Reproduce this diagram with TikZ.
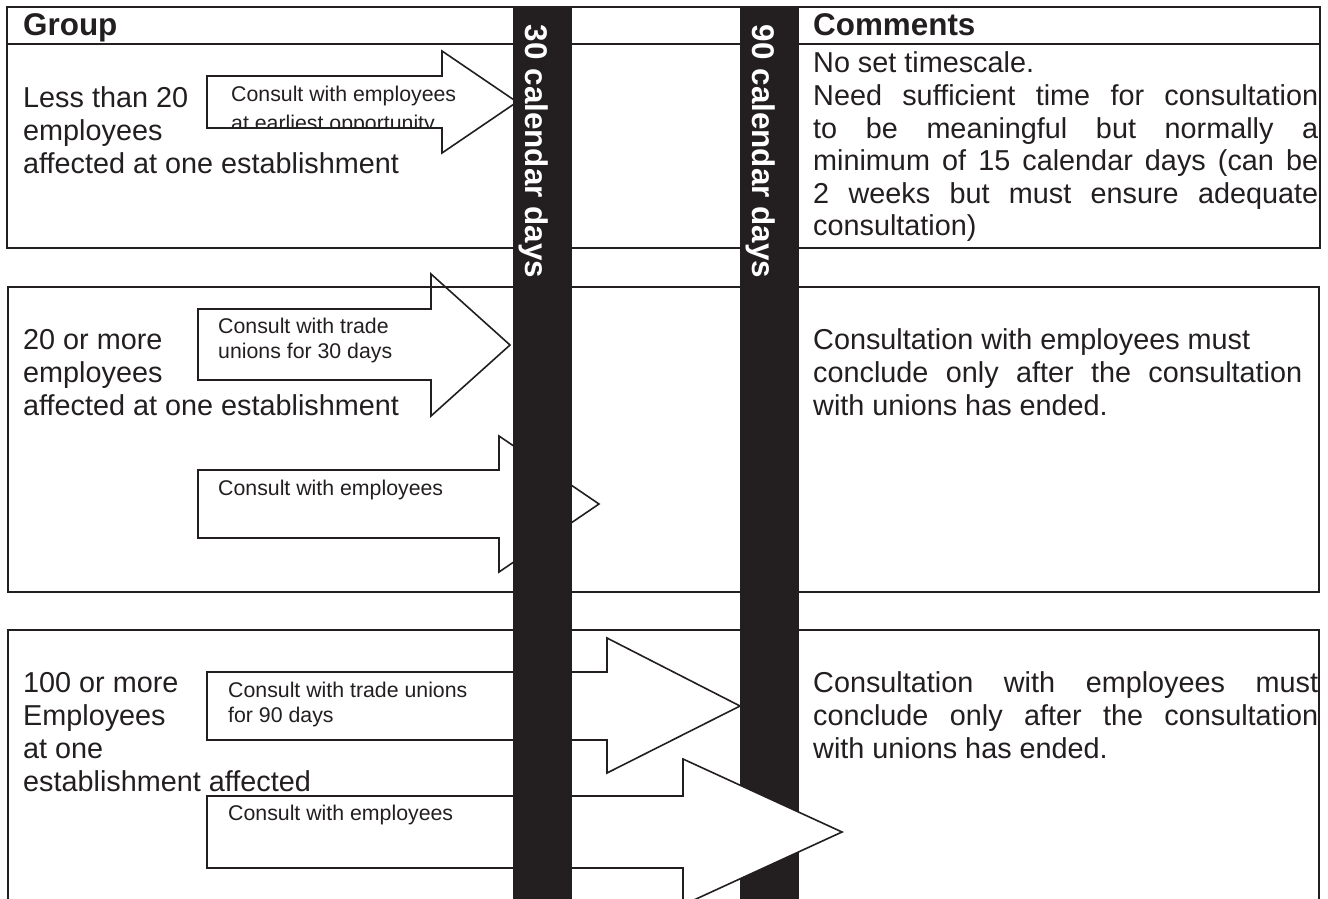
\documentclass[tikz,border=0pt]{standalone}
\usepackage{fontspec}
\setmainfont{Liberation Sans}
\definecolor{ink}{HTML}{231F20}
\newcommand\justline[2]{\makebox[#1][s]{#2}}
\begin{document}
\begin{tikzpicture}[x=1pt,y=-1pt,
  frame/.style={draw=ink, line width=2.2pt},
  barfill/.style={fill=ink},
  blockarrow/.style={draw=ink, fill=white, line width=1.6pt, line join=miter},
  body/.style={inner sep=0pt, anchor=base west, text=ink, font=\fontsize{28.8}{33}\selectfont},
  small/.style={inner sep=0pt, anchor=base west, text=ink, font=\fontsize{21.3}{25}\selectfont},
  headtext/.style={inner sep=0pt, anchor=base west, text=ink, font=\fontsize{31.4}{36}\selectfont\bfseries},
  bartext/.style={inner sep=0pt, anchor=base, rotate=-90, text=white, font=\fontsize{31.4}{36}\selectfont\bfseries}]
\clip (0,0) rectangle (1328,899);
\fill[white] (0,0) rectangle (1328,899);

% bar 2 (below the long arrow)
\fill[barfill] (740,6) rectangle (799,899);

% block arrows
\draw[blockarrow] (207,76) -- (442,76) -- (442,51) -- (517,102) -- (442,153) -- (442,128) -- (207,128) -- cycle;
\draw[blockarrow] (198,309) -- (431,309) -- (431,274) -- (510,345) -- (431,416) -- (431,380) -- (198,380) -- cycle;
\draw[blockarrow] (198,470) -- (499,470) -- (499,436) -- (599,504) -- (499,572) -- (499,538) -- (198,538) -- cycle;
\draw[blockarrow] (207,672) -- (607,672) -- (607,638) -- (740,706) -- (607,773) -- (607,740) -- (207,740) -- cycle;
\draw[blockarrow] (207,796) -- (683,796) -- (683,759) -- (842,832) -- (683,905) -- (683,868) -- (207,868) -- cycle;

% arrow texts
\begin{scope}
  \clip (208.5,77.5) rectangle (480,126.8);
  \node[small] (a1a) at (231,101) {Consult with employees};
  \node[small] (a1b) at (231,130.5) {at earliest opportunity};
\end{scope}
\node[small] (a2a) at (218,333) {Consult with trade};
\node[small] (a2b) at (218,358) {unions for 30 days};
\node[small] (a3a) at (218,495) {Consult with employees};
\node[small] (a4a) at (228,697) {Consult with trade unions};
\node[small] (a4b) at (228,722) {for 90 days};
\node[small] (a5a) at (228,820) {Consult with employees};

% table frames
\draw[frame] (7,7) rectangle (1320,248);
\draw[frame] (7,44) -- (1320,44);
\draw[frame] (8,287) rectangle (1319,592);
\draw[frame] (8,905) -- (8,630) -- (1319,630) -- (1319,905);

% bar 1 (on top)
\fill[barfill] (513,6) rectangle (572,899);
\node[bartext] (d30) at (525,151.5) {30 calendar days};
\node[bartext] (d90) at (752,151.5) {90 calendar days};

% headers
\node[headtext] (hg) at (23,36) {Group};
\node[headtext] (hc) at (813,36) {Comments};

% group texts
\node[body] (g1a) at (23,107) {Less than 20};
\node[body] (g1b) at (23,140) {employees};
\node[body] (g1c) at (23,173) {affected at one establishment};
\node[body] (g2a) at (23,349) {20 or more};
\node[body] (g2b) at (23,382) {employees};
\node[body] (g2c) at (23,415) {affected at one establishment};
\node[body] (g3a) at (23,692) {100 or more};
\node[body] (g3b) at (23,725) {Employees};
\node[body] (g3c) at (23,758) {at one};
\node[body] (g3d) at (23,791) {establishment affected};

% comments
\node[body] (c1a) at (813,73) {No set timescale.};
\node[body] (c1b) at (813,105.5) {\justline{505pt}{Need sufficient time for consultation}};
\node[body] (c1c) at (813,138) {\justline{505pt}{to be meaningful but normally a}};
\node[body] (c1d) at (813,170.5) {\justline{505pt}{minimum of 15 calendar days (can be}};
\node[body] (c1e) at (813,203) {\justline{505pt}{2 weeks but must ensure adequate}};
\node[body] (c1f) at (813,235.5) {consultation)};
\node[body] (c2a) at (813,349) {Consultation with employees must};
\node[body] (c2b) at (813,382) {\justline{489pt}{conclude only after the consultation}};
\node[body] (c2c) at (813,415) {with unions has ended.};
\node[body] (c3a) at (813,692) {\justline{505pt}{Consultation with employees must}};
\node[body] (c3b) at (813,725) {\justline{505pt}{conclude only after the consultation}};
\node[body] (c3c) at (813,758) {with unions has ended.};
\end{tikzpicture}
\end{document}
